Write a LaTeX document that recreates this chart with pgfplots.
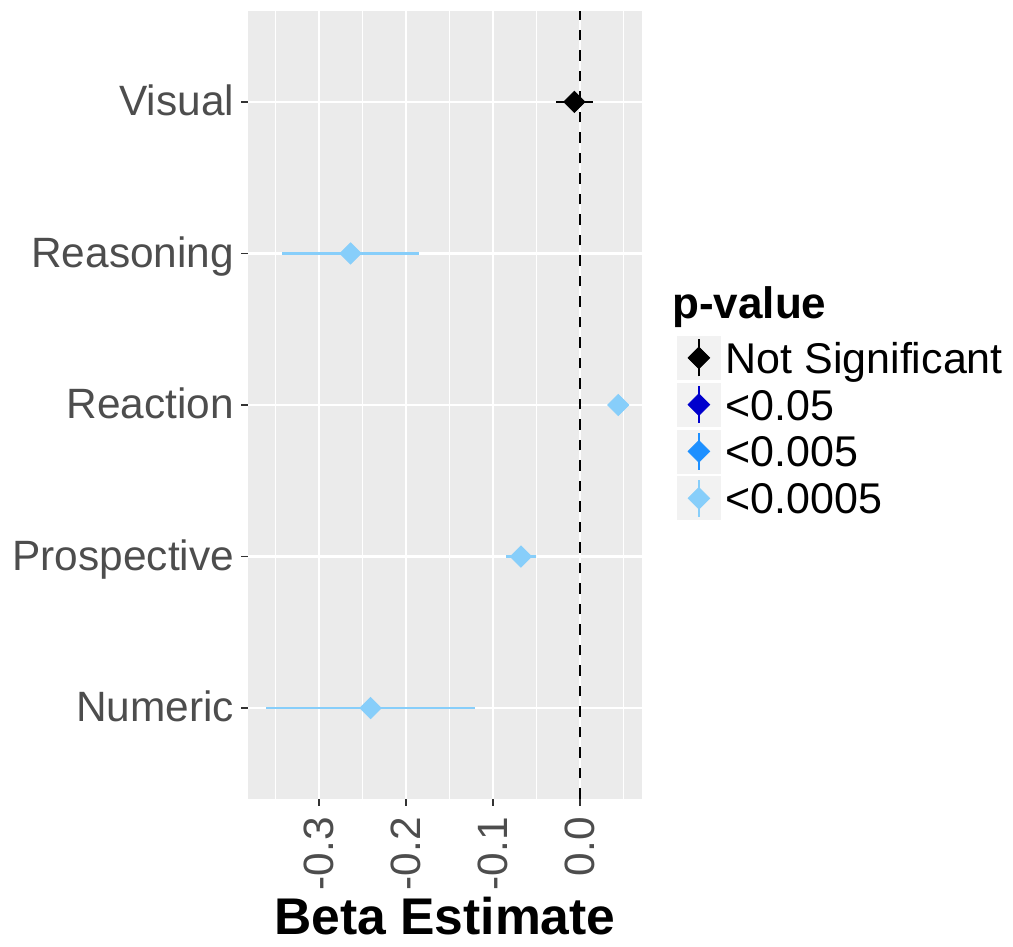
\documentclass[border=0pt]{standalone}
\usepackage{pgfplots}
\usepackage{pgfplotstable}
\pgfplotsset{compat=1.18}
\usepackage{fontspec}
\setmainfont{Liberation Sans}
\definecolor{panelbg}{HTML}{EBEBEB}
\definecolor{keybg}{HTML}{F2F2F2}
\definecolor{ticklab}{HTML}{4D4D4D}
\definecolor{tickcol}{HTML}{333333}
\definecolor{nsig}{HTML}{000000}
\definecolor{p05}{HTML}{0000CD}
\definecolor{p005}{HTML}{1E90FF}
\definecolor{p0005}{HTML}{87CEFA}

\pgfplotstableread{
y x ep em
5 -0.0065 0.0218 0.0211
}\visual
\pgfplotstableread{
y x ep em
4 -0.264 0.079 0.079
3 0.044 0.008 0.008
2 -0.068 0.017 0.017
1 -0.241 0.120 0.120
}\sigc

\pgfplotsset{
  pkey/.style={legend image code/.code={
    \fill[keybg] (0pt,-10.75pt) rectangle (21.5pt,10.75pt);
    \draw[#1, line width=1.2pt] (10.75pt,-9.25pt) -- (10.75pt,9.25pt);
    \fill[#1] (10.75pt,-5.4pt) -- (16.15pt,0pt) -- (10.75pt,5.4pt) -- (5.35pt,0pt) -- cycle;
  }}
}

\begin{document}
\begin{tikzpicture}
\begin{axis}[
  at={(0,0)}, anchor=south west,
  scale only axis, width=196.7pt, height=394pt,
  xmin=-0.3817, xmax=0.0710, ymin=0.4, ymax=5.6,
  axis background/.style={fill=panelbg},
  axis line style={draw=none},
  xtick={-0.3,-0.2,-0.1,0}, minor xtick={-0.35,-0.25,-0.15,-0.05,0.05},
  xticklabels={-0.3,-0.2,-0.1,0.0},
  ytick={1,2,3,4,5},
  yticklabels={Numeric,Prospective,Reaction,Reasoning,Visual},
  grid=both,
  major grid style={white, line width=1.15pt},
  minor grid style={white, line width=0.6pt},
  tick align=outside, tick pos=left,
  major tick length=3.5pt, minor tick length=0pt,
  tick style={tickcol, line width=0.8pt},
  yticklabel style={font=\fontsize{21.2}{25}\selectfont, text=ticklab, anchor=east, inner sep=0pt, xshift=-3.4pt, text height=15.2pt, text depth=1.5pt},
  xticklabel style={font=\fontsize{21.2}{25}\selectfont, text=ticklab, inner sep=0pt, yshift=-5.5pt, rotate=90, anchor=east},
  xlabel={Beta Estimate},
  xlabel style={at={(axis description cs:0.5,0)}, anchor=base, yshift=-68pt, inner sep=0pt, font=\bfseries\fontsize{25.8}{30}\selectfont},
  legend style={at={(axis description cs:1.0897,0.5876)}, anchor=north west,
    draw=none, fill=none, inner sep=0pt, outer sep=0pt,
    row sep=1.5pt, column sep=2.4pt,
    font=\fontsize{21.5}{25}\selectfont,
    nodes={inner sep=0pt, text height=15.4pt, text depth=0pt}},
  legend cell align=left,
]
\addplot[black, line width=1.3pt, dash pattern=on 5.25pt off 5pt, forget plot]
  coordinates {(0,0.4) (0,5.6)};
\addplot[only marks, color=nsig, pkey=nsig,
  mark=square*, mark size=3.75pt, mark options={rotate=45, fill=nsig, draw=none},
  error bars/.cd, x dir=both, x explicit, error mark=none,
  error bar style={line width=1.2pt, nsig}]
  table[x=x, y=y, x error plus=ep, x error minus=em] {\visual};
\addlegendentry{Not Significant}
\addlegendimage{pkey=p05}
\addlegendentry{<0.05}
\addlegendimage{pkey=p005}
\addlegendentry{<0.005}
\addplot[only marks, color=p0005, pkey=p0005,
  mark=square*, mark size=3.75pt, mark options={rotate=45, fill=p0005, draw=none},
  error bars/.cd, x dir=both, x explicit, error mark=none,
  error bar style={line width=1.2pt, p0005}]
  table[x=x, y=y, x error plus=ep, x error minus=em] {\sigc};
\addlegendentry{<0.0005}
\end{axis}
\node[anchor=base west, inner sep=0pt, font=\bfseries\fontsize{22}{26}\selectfont] at (211.85pt,240pt) {p-value};
\pgfresetboundingbox
\useasboundingbox (-124.15pt,-74pt) rectangle (382.35pt,399.5pt);
\end{tikzpicture}
\end{document}
